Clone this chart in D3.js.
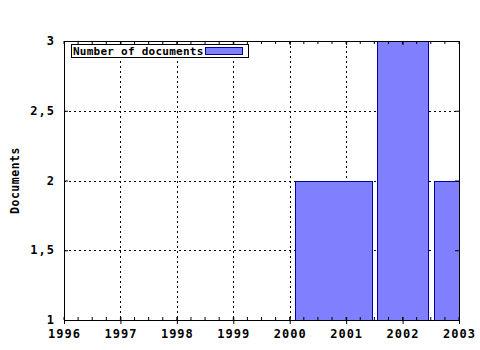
<!DOCTYPE html>
<html>
<head>
<meta charset="utf-8">
<script src="https://cdn.jsdelivr.net/npm/d3@7"></script>
<style>
  body { margin: 0; background: #fff; }
  text { font-family: "DejaVu Sans Mono", monospace; font-weight: bold; fill: #000; }
</style>
</head>
<body>
<svg id="chart" width="480" height="350"></svg>
<script>
// bars span a date range (in fractional years)
const barStart = [2000.09, 2001.55, 2002.56];
const barEnd = [2001.46, 2002.45, 2003.6];
const docCounts = [2, 3, 2];
const yearTicks = [1996, 1997, 1998, 1999, 2000, 2001, 2002, 2003];
const docTicks = [1, 1.5, 2, 2.5, 3];
const seriesName = "Number of documents";

const svg = d3.select("#chart");
const margin = {top: 41, right: 21, bottom: 30, left: 64};
const width = 480, height = 350;
const x0 = margin.left, x1 = width - margin.right;
const y0 = height - margin.bottom, y1 = margin.top;

const xScale = d3.scaleLinear().domain([1996, 2003]).range([x0, x1]);
const yScale = d3.scaleLinear().domain([1, 3]).range([y0, y1]);

svg.append("defs").append("clipPath").attr("id", "plot")
  .append("rect").attr("x", x0).attr("y", y1).attr("width", x1 - x0).attr("height", y0 - y1);

// grid
const grid = svg.append("g").attr("stroke", "#000").attr("stroke-dasharray", "2,3").attr("shape-rendering", "crispEdges");
grid.selectAll(".gx").data(yearTicks.slice(1, -1)).enter().append("line")
  .attr("x1", d => Math.round(xScale(d)) + 0.5).attr("x2", d => Math.round(xScale(d)) + 0.5)
  .attr("y1", y1).attr("y2", y0);
grid.selectAll(".gy").data(docTicks.slice(1, -1)).enter().append("line")
  .attr("y1", d => Math.round(yScale(d)) + 0.5).attr("y2", d => Math.round(yScale(d)) + 0.5)
  .attr("x1", x0).attr("x2", x1);

// bars
const data = docCounts.map((v, i) => ({s: barStart[i], e: barEnd[i], v}));
svg.append("g").attr("clip-path", "url(#plot)")
  .selectAll("rect").data(data).enter().append("rect")
  .attr("x", d => Math.round(xScale(d.s)) + 0.5)
  .attr("width", d => Math.round(xScale(d.e) - xScale(d.s)))
  .attr("y", d => Math.round(yScale(d.v)) + 0.5)
  .attr("height", d => Math.round(yScale(1) - yScale(d.v)))
  .attr("fill", "#8080ff").attr("stroke", "#0000a0").attr("stroke-width", 1)
  .attr("shape-rendering", "crispEdges");

// axes
const minorX = d3.range(1996, 2003.001, 0.25);
const bottomAxis = svg.append("g").attr("transform", `translate(0,${y0})`)
  .call(d3.axisBottom(xScale).tickValues(yearTicks).tickFormat(d3.format("d")).tickSizeInner(4).tickSizeOuter(0).tickPadding(4));
bottomAxis.selectAll(".tick line").attr("y1", -3);
bottomAxis.selectAll(".tick text").attr("font-size", 12).attr("letter-spacing", 1).attr("dy", "0.85em");
bottomAxis.selectAll(".minor").data(minorX).enter().append("line")
  .attr("x1", d => xScale(d)).attr("x2", d => xScale(d)).attr("y1", 0).attr("y2", -3).attr("stroke", "#000");

const topAxis = svg.append("g").attr("transform", `translate(0,${y1})`)
  .call(d3.axisTop(xScale).tickValues(yearTicks).tickFormat("").tickSizeInner(-4).tickSizeOuter(0));
topAxis.selectAll(".minor").data(minorX).enter().append("line")
  .attr("x1", d => xScale(d)).attr("x2", d => xScale(d)).attr("y1", 0).attr("y2", 3).attr("stroke", "#000");

const leftAxis = svg.append("g").attr("transform", `translate(${x0},0)`)
  .call(d3.axisLeft(yScale).tickValues(docTicks).tickFormat(d => String(d).replace(".", ",")).tickSizeInner(5).tickSizeOuter(0).tickPadding(4));
leftAxis.selectAll(".tick line").attr("x2", 4);
leftAxis.selectAll(".tick text").attr("font-size", 12).attr("letter-spacing", 1).attr("dy", "0.3em");

svg.append("g").attr("transform", `translate(${x1},0)`)
  .call(d3.axisRight(yScale).tickValues(docTicks).tickFormat("").tickSizeInner(-4).tickSizeOuter(0));

svg.selectAll(".domain").attr("stroke", "#000");
svg.selectAll("text").attr("font-family", "DejaVu Sans Mono").attr("font-weight", "bold");

// y label
svg.append("text").attr("transform", `translate(19,${(y0 + y1) / 2}) rotate(-90)`)
  .attr("text-anchor", "middle").attr("font-size", 11.5).attr("letter-spacing", 0.5)
  .text("Documents");

// legend
const lg = svg.append("g").attr("transform", "translate(71.5,44.5)");
lg.append("rect").attr("width", 177).attr("height", 13).attr("fill", "#fff").attr("stroke", "#000");
lg.append("text").attr("x", 1.5).attr("y", 10.5).attr("font-size", 11).attr("letter-spacing", 0.25).text(seriesName);
lg.append("rect").attr("x", 134).attr("y", 3).attr("width", 37).attr("height", 7)
  .attr("fill", "#8080ff").attr("stroke", "#0000a0");
</script>
</body>
</html>
